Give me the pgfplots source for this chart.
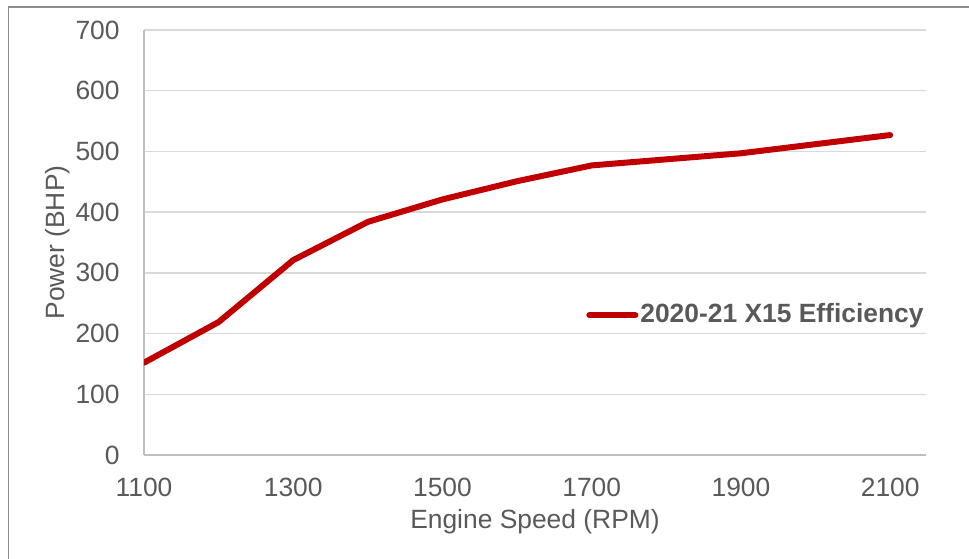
\documentclass[border=0pt]{standalone}
\usepackage{pgfplots}
\pgfplotsset{compat=1.18}
\usepackage{fontspec}
\setmainfont{Liberation Sans}
\definecolor{txt}{HTML}{595959}
\definecolor{ln}{HTML}{C00000}
\definecolor{grd}{HTML}{D9D9D9}
\definecolor{axl}{HTML}{BFBFBF}
\definecolor{frm}{HTML}{8C8C8C}
\begin{document}
\fontsize{13.2pt}{15pt}\selectfont
\begin{tikzpicture}
\useasboundingbox (0pt,0pt) rectangle (484.5pt,-279pt);
\draw[frm, line width=0.8pt] (4.2pt,-400pt) -- (4.2pt,-3.6pt) -- (600pt,-3.6pt);
\begin{axis}[
  at={(72pt,-227.5pt)}, anchor=south west,
  scale only axis, width=391pt, height=212.5pt,
  xmin=1100, xmax=2148, ymin=0, ymax=700,
  xtick={1100,1300,1500,1700,1900,2100},
  ytick={0,100,...,700},
  axis x line*=bottom, axis y line*=left,
  axis line style={axl, line width=0.9pt, -},
  major tick length=0pt,
  ymajorgrids, grid style={grd, line width=0.7pt},
  /pgf/number format/1000 sep={},
  /pgf/number format/assume math mode=true,
  tick label style={font=\fontsize{13.2pt}{15pt}\selectfont, text=txt},
  xticklabel style={anchor=north, inner sep=0pt, yshift=-11.5pt},
  yticklabel style={anchor=east, inner sep=0pt, xshift=-12pt},
  xlabel={Engine Speed (RPM)}, ylabel={Power (BHP)},
  label style={font=\fontsize{13.2pt}{15pt}\selectfont, text=txt},
  xlabel style={at={(axis description cs:0.5,-0.158)}, anchor=center},
  ylabel style={at={(axis description cs:-0.11,0.5)}, anchor=center, rotate=0},
  legend style={at={(axis description cs:1.0,0.329)}, anchor=east, draw=none, fill=none,
    font=\bfseries\fontsize{13.2pt}{15pt}\selectfont, text=txt, inner sep=0pt,
    nodes={inner sep=1pt}},
  legend image code/.code={\draw[#1, line cap=round] (0pt,0pt) -- (23pt,0pt);},
]
\addplot[ln, line width=3pt, line join=round, line cap=round] coordinates {
(1100,152) (1200,219) (1300,321) (1400,384) (1500,421) (1600,451)
(1700,477) (1800,487) (1900,497) (2000,512) (2100,527)};
\addlegendentry{2020-21 X15 Efficiency}
\end{axis}
\end{tikzpicture}
\end{document}
